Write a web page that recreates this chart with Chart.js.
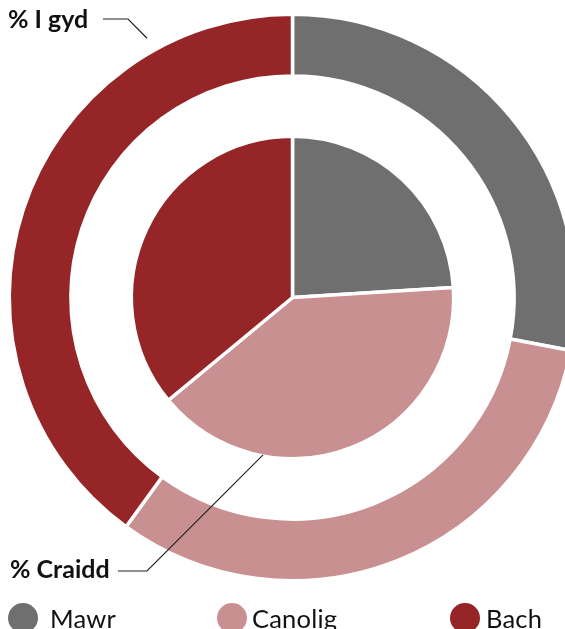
<!DOCTYPE html>
<html>
<head>
<meta charset="utf-8">
<script src="https://cdn.jsdelivr.net/npm/chart.js@4"></script>
<style>
  html, body { margin: 0; padding: 0; background: #fff; overflow: hidden; }
  #wrap { position: relative; width: 565px; height: 629px; overflow: hidden; }
  #chart { position: absolute; left: 0; top: 0; }
  .legend-item { position: absolute; top: 603px; display: flex; align-items: center; }
  .legend-dot { width: 30px; height: 30px; border-radius: 50%; }
  .legend-text { font-family: Lato, sans-serif; font-size: 25.5px; color: #111; line-height: 30px; letter-spacing: 0.2px; }
</style>
</head>
<body>
<div id="wrap">
  <canvas id="chart" width="585" height="629"></canvas>
</div>
<script>
// categories and values (percent)
const categories = ['Mawr', 'Canolig', 'Bach'];
const allValues = [28, 32, 40];   // % I gyd (outer ring)
const coreValues = [24, 40, 36];  // % Craidd (inner pie)
const colors = ['#6f6f6f', '#c99092', '#952527'];

// legend placement
const legendLeft = [8, 217, 450];
const legendGap = [12, 5, 6];

const wrap = document.getElementById('wrap');
categories.forEach(function(name, i) {
  const item = document.createElement('div');
  item.className = 'legend-item';
  item.style.left = legendLeft[i] + 'px';
  item.innerHTML = '<span class="legend-dot" style="background:' + colors[i] + ';margin-right:' +
    legendGap[i] + 'px"></span><span class="legend-text">' + name + '</span>';
  wrap.appendChild(item);
});

// leader labels drawn on top of the chart
const calloutPlugin = {
  id: 'callouts',
  afterDraw: function(chart) {
    const ctx = chart.ctx;
    const outer = chart.getDatasetMeta(0).data[0];
    const inner = chart.getDatasetMeta(2).data[1];
    const cx = outer.x, cy = outer.y;

    ctx.save();
    ctx.font = 'bold 25px Lato, sans-serif';
    ctx.fillStyle = '#111';
    ctx.textBaseline = 'alphabetic';
    ctx.fillText('% I gyd', 8, 28);
    ctx.fillText('% Craidd', 10, 578);

    ctx.strokeStyle = '#222';
    ctx.lineWidth = 1.2;

    // % I gyd -> outside the outer ring
    let a = (-90 - 29.3) * Math.PI / 180;
    let r = outer.outerRadius + 14;
    ctx.beginPath();
    ctx.moveTo(103, 19);
    ctx.lineTo(128, 19);
    ctx.lineTo(cx + r * Math.cos(a), cy + r * Math.sin(a));
    ctx.stroke();

    // % Craidd -> edge of inner pie
    a = (-90 + 190.6) * Math.PI / 180;
    r = inner.outerRadius - 1;
    ctx.beginPath();
    ctx.moveTo(118, 571);
    ctx.lineTo(147, 571);
    ctx.lineTo(cx + r * Math.cos(a), cy + r * Math.sin(a));
    ctx.stroke();
    ctx.restore();
  }
};

new Chart(document.getElementById('chart'), {
  type: 'doughnut',
  data: {
    labels: categories,
    datasets: [
      {
        label: '% I gyd',
        data: allValues,
        backgroundColor: colors,
        borderColor: '#fff',
        borderWidth: 3.5,
        weight: 61.7
      },
      {
        label: 'gap',
        data: [1],
        backgroundColor: 'rgba(0,0,0,0)',
        borderWidth: 0,
        weight: 60.5
      },
      {
        label: '% Craidd',
        data: coreValues,
        backgroundColor: colors,
        borderColor: '#fff',
        borderWidth: 3.5,
        weight: 161.3
      }
    ]
  },
  options: {
    responsive: false,
    animation: false,
    cutout: 0,
    layout: {
      padding: { top: 12.5, left: 7.5, right: 7.5, bottom: 46.5 }
    },
    plugins: {
      legend: { display: false },
      tooltip: { enabled: false }
    },
    events: []
  },
  plugins: [calloutPlugin]
});
</script>
</body>
</html>
